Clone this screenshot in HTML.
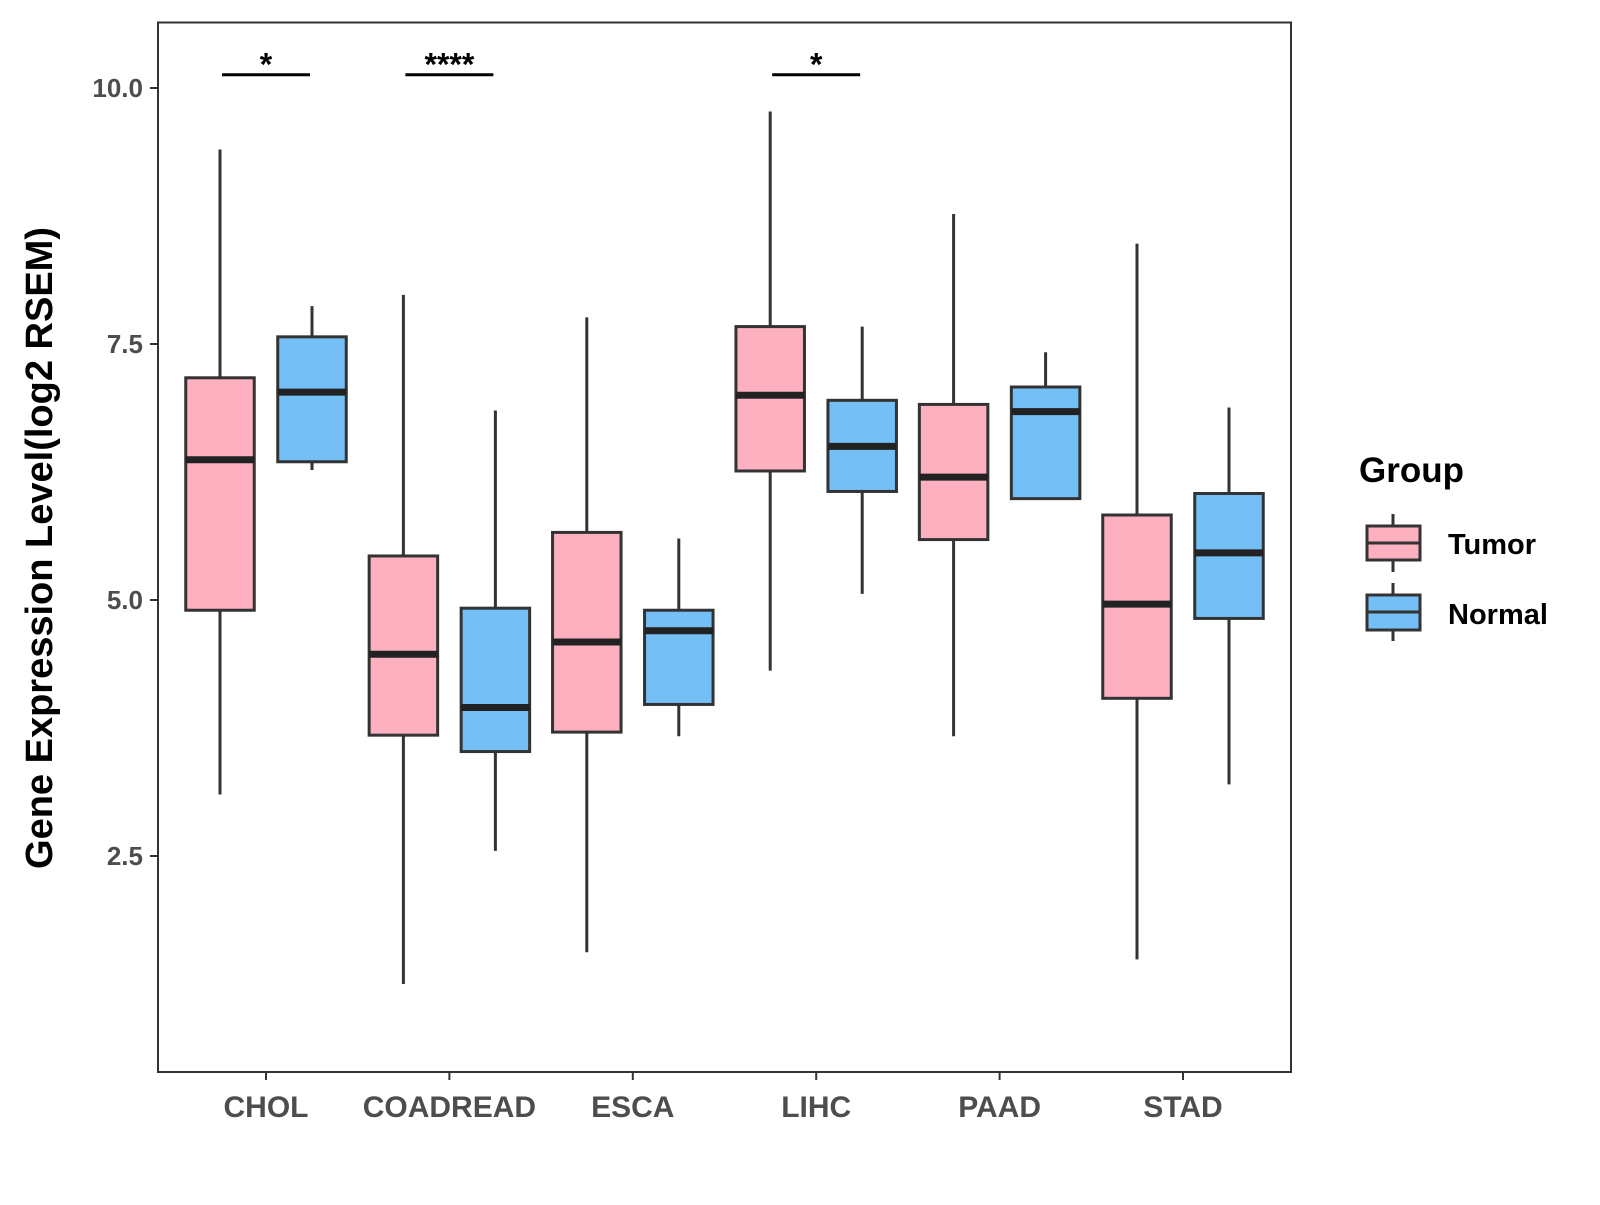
<!DOCTYPE html>
<html><head><meta charset="utf-8"><style>
body{margin:0;background:#fff}
svg text{font-family:"Liberation Sans",sans-serif;font-weight:bold}
</style></head><body>
<svg id="chart" width="1600" height="1200" xmlns="http://www.w3.org/2000/svg">
<rect x="158" y="22.5" width="1133" height="1049.5" fill="#fff" stroke="#333" stroke-width="2"/>
<g id="marks"></g>
<text transform="translate(52,548) rotate(-90)" text-anchor="middle" font-size="38" fill="#000">Gene Expression Level(log2 RSEM)</text>
<text x="1359" y="482" font-size="35" fill="#000">Group</text>
<g>
<line x1="1393" y1="514" x2="1393" y2="572" stroke="#333" stroke-width="3"/>
<rect x="1367" y="526" width="53" height="34" fill="#FDB0C0" stroke="#333" stroke-width="3"/>
<line x1="1367" y1="543" x2="1420" y2="543" stroke="#333" stroke-width="3"/>
<text x="1448" y="554" font-size="29" fill="#000">Tumor</text></g>
<g>
<line x1="1393" y1="583" x2="1393" y2="641" stroke="#333" stroke-width="3"/>
<rect x="1367" y="595" width="53" height="35" fill="#74C0F6" stroke="#333" stroke-width="3"/>
<line x1="1367" y1="612" x2="1420" y2="612" stroke="#333" stroke-width="3"/>
<text x="1448" y="624" font-size="29" fill="#000">Normal</text></g>
</svg>
<script>
const categories=["CHOL","COADREAD","ESCA","LIHC","PAAD","STAD"];
const tumorLow=[3.1,1.25,1.56,4.31,3.67,1.49];
const tumorQ1=[4.9,3.68,3.71,6.26,5.59,4.04];
const tumorMed=[6.37,4.47,4.59,7.0,6.2,4.96];
const tumorQ3=[7.17,5.43,5.66,7.67,6.91,5.83];
const tumorHigh=[9.4,7.98,7.76,9.77,8.77,8.48];
const normalLow=[6.27,2.55,3.67,5.06,5.98,3.2];
const normalQ1=[6.35,3.52,3.98,6.06,5.99,4.82];
const normalMed=[7.03,3.95,4.7,6.5,6.84,5.46];
const normalQ3=[7.57,4.92,4.9,6.95,7.08,6.04];
const normalHigh=[7.87,6.85,5.6,7.67,7.42,6.88];
const yTicks=[2.5,5.0,7.5,10.0];
const sigCats=["CHOL","COADREAD","LIHC"];
const sigLabels=["*","****","*"];
const sigLevel=10.13;

const NS="http://www.w3.org/2000/svg";
const svg=document.getElementById('marks');
const y=v=>88+(10-v)*102.4;
const x=i=>266+i*183.4;
function mk(tag,a){const e=document.createElementNS(NS,tag);for(const k in a)e.setAttribute(k,a[k]);svg.appendChild(e);return e;}
yTicks.forEach(t=>{
  const l=mk('line',{x1:150,x2:158,y1:y(t),y2:y(t),stroke:'#333','stroke-width':2});
  
  
  const tx=mk('text',{x:143,y:y(t)+9,'text-anchor':'end','font-size':26,fill:'#4d4d4d'});
  tx.textContent=t.toFixed(1);
  
  
});
categories.forEach((c,i)=>{
  const l=mk('line',{x1:x(i),x2:x(i),y1:1072,y2:1080,stroke:'#333','stroke-width':2});
  
  
  const tx=mk('text',{x:x(i),y:1117,'text-anchor':'middle','font-size':30,fill:'#4d4d4d'});
  tx.textContent=c;
  
  
});
function box(cx,lo,q1,md,q3,hi,fill,name){
  const g=document.createElementNS(NS,'g');svg.appendChild(g);
  
  
  const w=68.5;
  const add=(t,a)=>{const e=document.createElementNS(NS,t);for(const k in a)e.setAttribute(k,a[k]);g.appendChild(e);};
  add('line',{x1:cx,x2:cx,y1:y(hi),y2:y(lo),stroke:'#333','stroke-width':3});
  add('rect',{x:cx-w/2,y:y(q3),width:w,height:y(q1)-y(q3),fill:fill,stroke:'#333','stroke-width':3});
  add('line',{x1:cx-w/2,x2:cx+w/2,y1:y(md),y2:y(md),stroke:'#222','stroke-width':7});
}
categories.forEach((c,i)=>{
  box(x(i)-46,tumorLow[i],tumorQ1[i],tumorMed[i],tumorQ3[i],tumorHigh[i],'#FDB0C0','box-tumor-'+c.toLowerCase());
  box(x(i)+46,normalLow[i],normalQ1[i],normalMed[i],normalQ3[i],normalHigh[i],'#74C0F6','box-normal-'+c.toLowerCase());
});
sigCats.forEach((c,k)=>{
  const i=categories.indexOf(c);
  const l=mk('line',{x1:x(i)-44,x2:x(i)+44,y1:y(sigLevel),y2:y(sigLevel),stroke:'#000','stroke-width':3});
  
  
  const t=mk('text',{x:x(i),y:y(sigLevel)+1,'text-anchor':'middle','font-size':32,fill:'#000'});
  t.textContent=sigLabels[k];
  
  
});
</script>
</body></html>
